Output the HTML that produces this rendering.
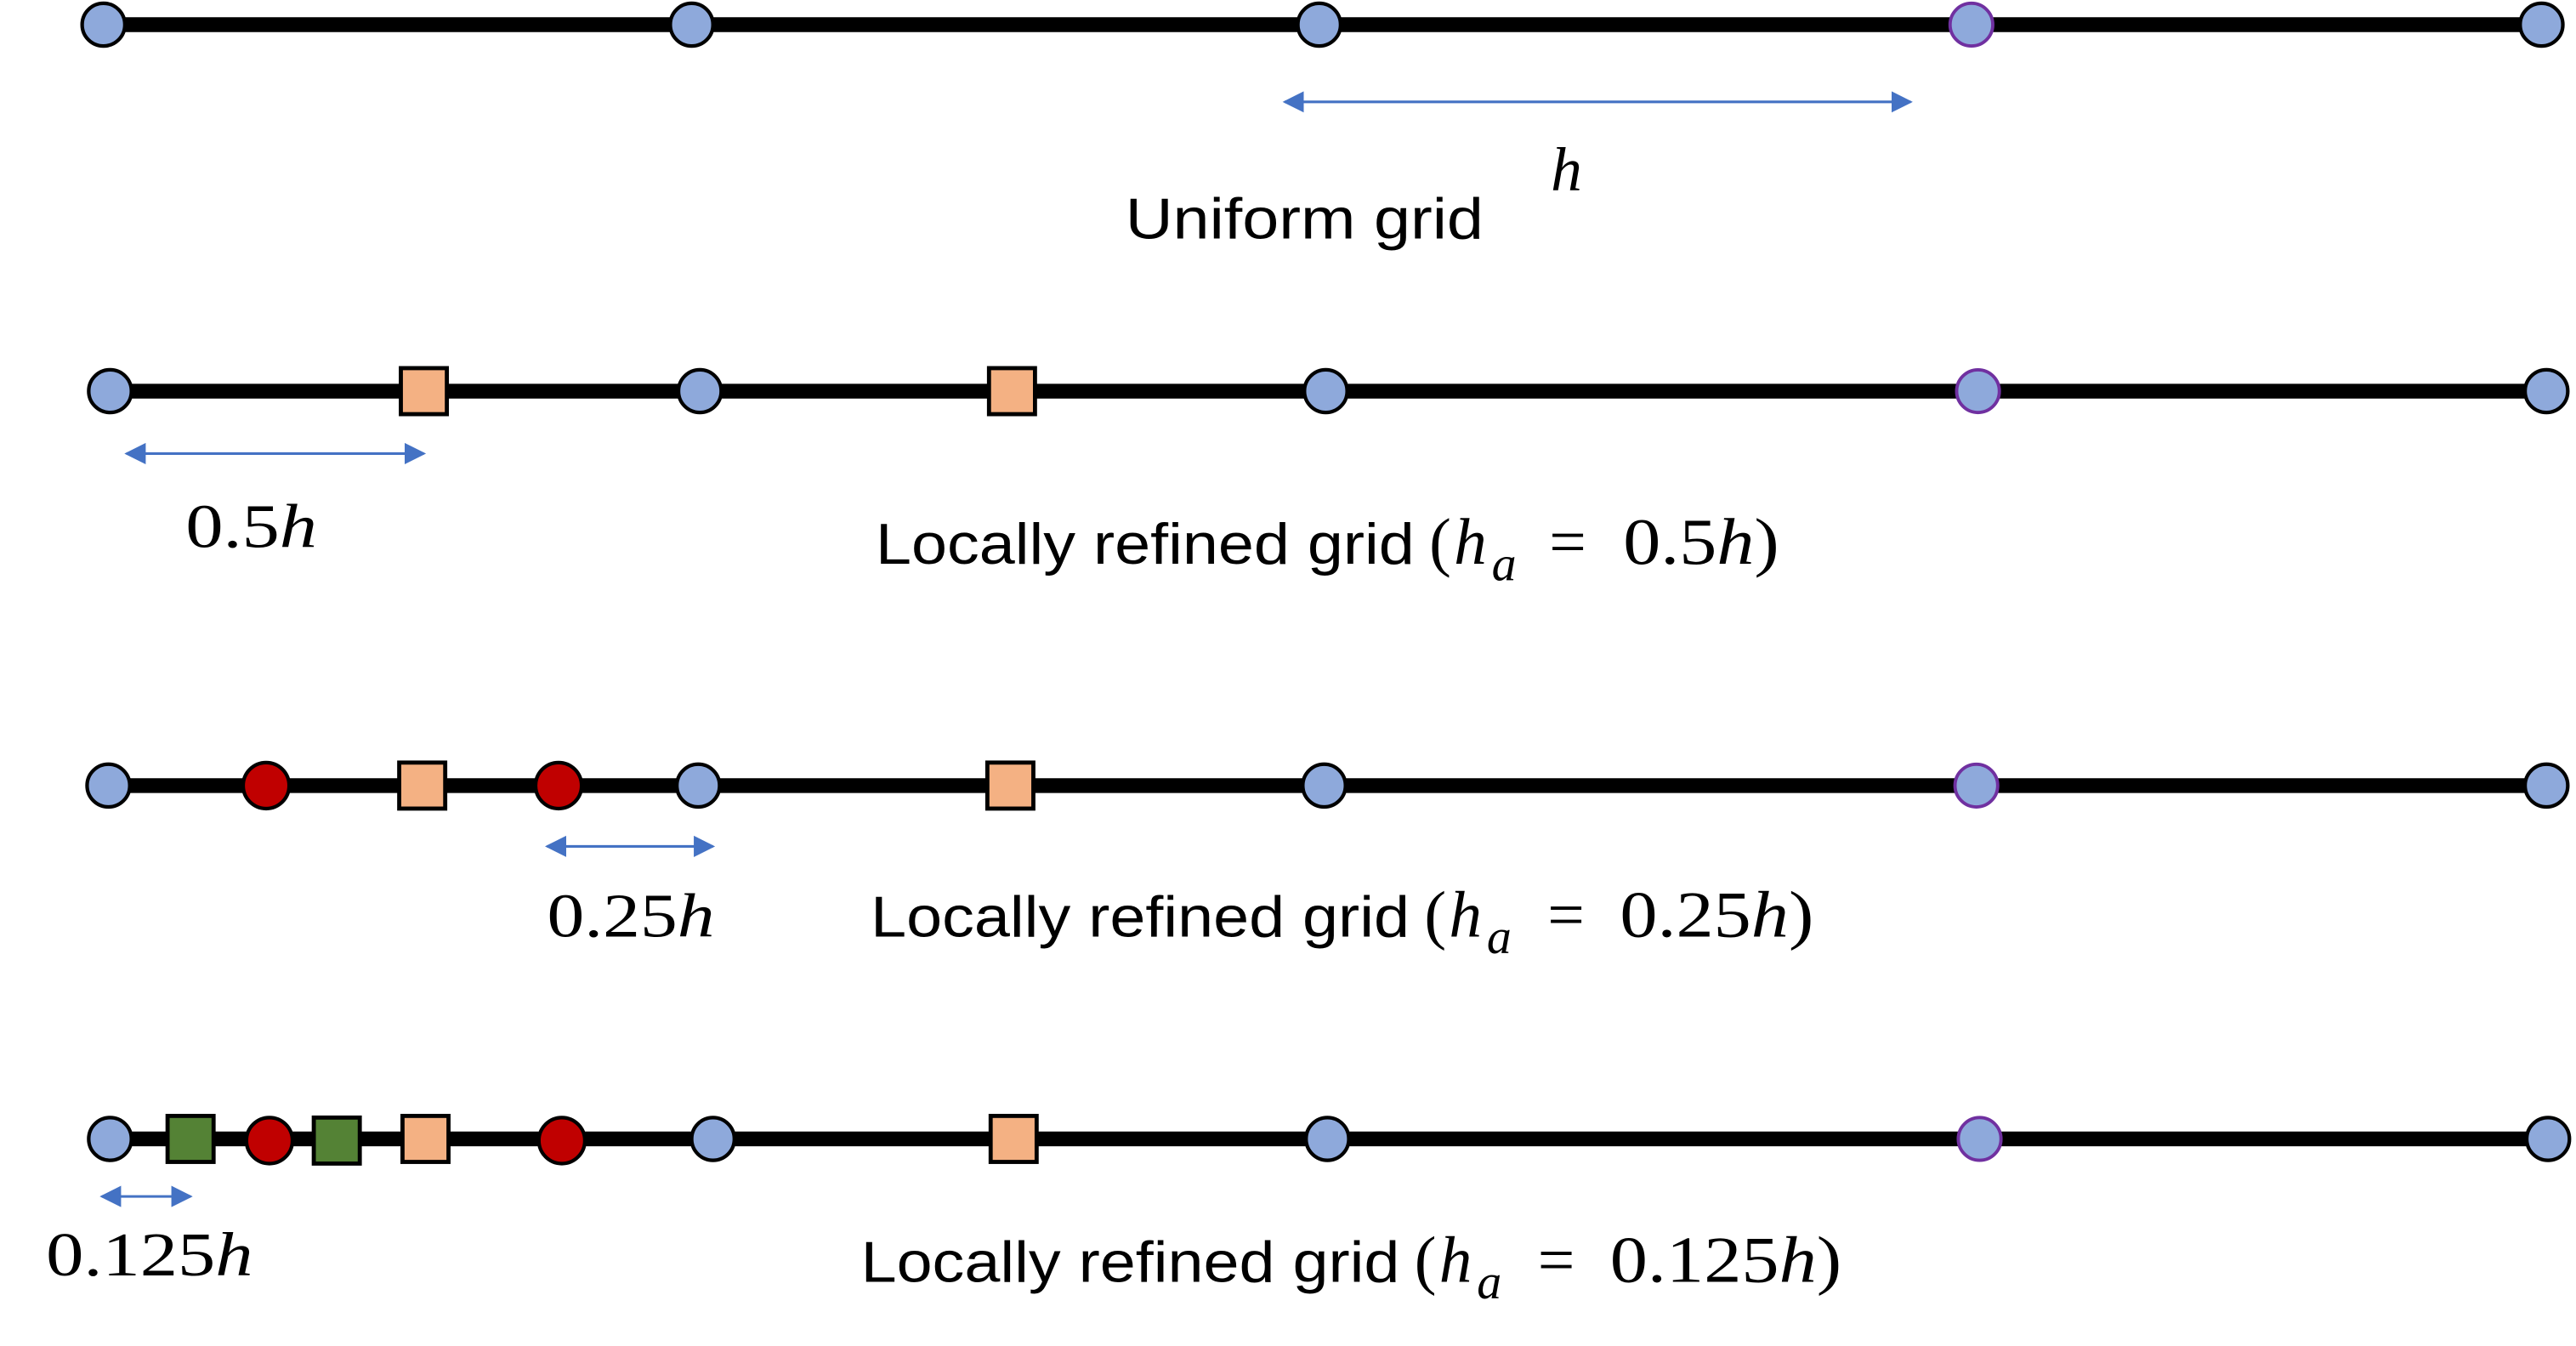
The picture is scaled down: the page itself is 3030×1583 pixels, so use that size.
<!DOCTYPE html>
<html><head><meta charset="utf-8"><style>html,body{margin:0;padding:0;background:#fff;}svg{display:block}</style></head>
<body>
<svg width="3030" height="1583" viewBox="0 0 1568 819" preserveAspectRatio="none" xmlns="http://www.w3.org/2000/svg">
<defs>
<marker id="a" viewBox="0 0 10 10" refX="9" refY="5" markerUnits="userSpaceOnUse" markerWidth="13" markerHeight="13" orient="auto-start-reverse"><path d="M0,0L10,5L0,10z" fill="#4472C4"/></marker>
</defs>
<g stroke="#000" stroke-width="9">
<line x1="63" y1="15" x2="1547" y2="15"/>
<line x1="67" y1="238" x2="1550" y2="238"/>
<line x1="66" y1="478" x2="1550" y2="478"/>
<line x1="67" y1="693" x2="1551" y2="693"/>
</g>
<g fill="#8EA9DB" stroke="#000" stroke-width="2.2">
<circle cx="63" cy="15" r="13"/><circle cx="421" cy="15" r="13"/><circle cx="803" cy="15" r="13"/><circle cx="1547" cy="15" r="13"/>
<circle cx="67" cy="238" r="13"/><circle cx="426" cy="238" r="13"/><circle cx="807" cy="238" r="13"/><circle cx="1550" cy="238" r="13"/>
<circle cx="66" cy="478" r="13"/><circle cx="425" cy="478" r="13"/><circle cx="806" cy="478" r="13"/><circle cx="1550" cy="478" r="13"/>
<circle cx="67" cy="693" r="13"/><circle cx="434" cy="693" r="13"/><circle cx="808" cy="693" r="13"/><circle cx="1551" cy="693" r="13"/>
</g>
<g fill="#8EA9DB" stroke="#7030A0" stroke-width="2">
<circle cx="1200" cy="15" r="13"/><circle cx="1204" cy="238" r="13"/><circle cx="1203" cy="478" r="13"/><circle cx="1205" cy="693" r="13"/>
</g>
<g fill="#F4B183" stroke="#000" stroke-width="2.5">
<rect x="244" y="224" width="28" height="28"/><rect x="602" y="224" width="28" height="28"/>
<rect x="243" y="464" width="28" height="28"/><rect x="601" y="464" width="28" height="28"/>
<rect x="245" y="679" width="28" height="28"/><rect x="603" y="679" width="28" height="28"/>
</g>
<g fill="#548235" stroke="#000" stroke-width="2.5">
<rect x="102" y="679" width="28" height="28"/><rect x="191" y="680" width="28" height="28"/>
</g>
<g fill="#C00000" stroke="#000" stroke-width="2.2">
<circle cx="162" cy="478" r="14"/><circle cx="340" cy="478" r="14"/>
<circle cx="164" cy="694" r="14"/><circle cx="342" cy="694" r="14"/>
</g>
<g stroke="#4472C4" stroke-width="1.6" marker-start="url(#a)" marker-end="url(#a)">
<line x1="782" y1="62" x2="1163" y2="62"/>
<line x1="77" y1="276" x2="258" y2="276"/>
<line x1="333" y1="515" x2="434" y2="515"/>
<line x1="62" y1="728" x2="116" y2="728"/>
</g>
<g font-family="Liberation Serif, serif" fill="#000" font-size="38">
<text x="944" y="116" font-style="italic">h</text>
<text x="113" y="333" textLength="80" lengthAdjust="spacingAndGlyphs">0.5<tspan font-style="italic">h</tspan></text>
<text x="333" y="570" textLength="102" lengthAdjust="spacingAndGlyphs">0.25<tspan font-style="italic">h</tspan></text>
<text x="28" y="776" textLength="126" lengthAdjust="spacingAndGlyphs">0.125<tspan font-style="italic">h</tspan></text>
</g>
<g font-family="Liberation Sans, sans-serif" font-size="35" fill="#000">
<text x="685" y="145" textLength="218" lengthAdjust="spacingAndGlyphs">Uniform grid</text>
<text x="533" y="343" textLength="328" lengthAdjust="spacingAndGlyphs">Locally refined grid</text>
<text x="530" y="570" textLength="328" lengthAdjust="spacingAndGlyphs">Locally refined grid</text>
<text x="524" y="780" textLength="328" lengthAdjust="spacingAndGlyphs">Locally refined grid</text>
</g>
<g font-family="Liberation Serif, serif" font-size="40" fill="#000">
<text x="870" y="343">(</text><text x="885" y="343" font-style="italic">h</text><text x="908" y="353" font-style="italic" font-size="30">a</text>
<text x="943" y="343">=</text><text x="988" y="343" textLength="95" lengthAdjust="spacingAndGlyphs">0.5<tspan font-style="italic">h</tspan>)</text>
<text x="867" y="570">(</text><text x="882" y="570" font-style="italic">h</text><text x="905" y="580" font-style="italic" font-size="30">a</text>
<text x="942" y="570">=</text><text x="986" y="570" textLength="118" lengthAdjust="spacingAndGlyphs">0.25<tspan font-style="italic">h</tspan>)</text>
<text x="861" y="780">(</text><text x="876" y="780" font-style="italic">h</text><text x="899" y="790" font-style="italic" font-size="30">a</text>
<text x="936" y="780">=</text><text x="980" y="780" textLength="141" lengthAdjust="spacingAndGlyphs">0.125<tspan font-style="italic">h</tspan>)</text>
</g>
</svg>
</body></html>
